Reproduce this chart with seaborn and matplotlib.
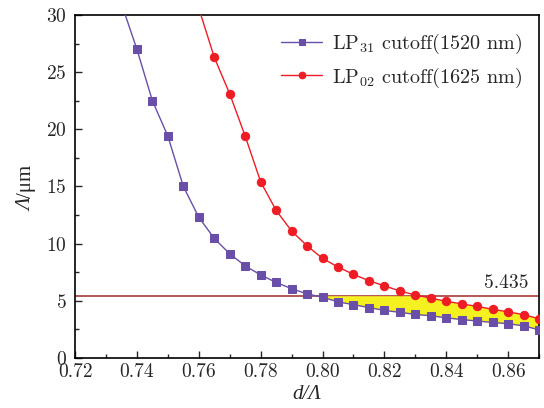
import numpy as np
import pandas as pd
import matplotlib
matplotlib.use("Agg")
import matplotlib.pyplot as plt
import seaborn as sns
from matplotlib.ticker import MultipleLocator

# data
x_lp31 = [0.735, 0.74, 0.745, 0.75, 0.755, 0.76, 0.765, 0.77, 0.775, 0.78, 0.785, 0.79, 0.795,
          0.80, 0.805, 0.81, 0.815, 0.82, 0.825, 0.83, 0.835, 0.84, 0.845, 0.85, 0.855, 0.86, 0.865, 0.87]
y_lp31 = [31.0, 27.0, 22.5, 19.4, 15.0, 12.3, 10.45, 9.1, 8.05, 7.25, 6.6, 6.05, 5.6,
          5.3, 4.9, 4.65, 4.4, 4.15, 3.98, 3.8, 3.68, 3.5, 3.35, 3.22, 3.1, 2.98, 2.8, 2.45]
x_lp02 = [0.76, 0.765, 0.77, 0.775, 0.78, 0.785, 0.79, 0.795, 0.80, 0.805, 0.81, 0.815, 0.82,
          0.825, 0.83, 0.835, 0.84, 0.845, 0.85, 0.855, 0.86, 0.865, 0.87]
y_lp02 = [30.6, 26.3, 23.1, 19.4, 15.4, 12.9, 11.1, 9.8, 8.7, 7.95, 7.3, 6.75, 6.3,
          5.85, 5.5, 5.22, 4.95, 4.72, 4.5, 4.25, 4.02, 3.78, 3.42]
level = 5.435
label_31 = "LP$_{31}$ cutoff(1520 nm)"
label_02 = "LP$_{02}$ cutoff(1625 nm)"

sns.set_style("ticks")
plt.rcParams["font.family"] = ["cmr10", "DejaVu Serif"]
plt.rcParams["mathtext.fontset"] = "cm"
plt.rcParams["axes.formatter.use_mathtext"] = True
plt.rcParams["axes.unicode_minus"] = False

purple = "#6a4fa8"
red = "#ee1c24"

fig = plt.figure(figsize=(5.44, 4.08), dpi=100)
ax = fig.add_axes([0.138, 0.123, 0.853, 0.840])

df31 = pd.DataFrame({"x": x_lp31, "y": y_lp31})
df02 = pd.DataFrame({"x": x_lp02, "y": y_lp02})

ax.axhline(level, color="#a83a3a", lw=1.2, zorder=1)

# yellow region between curves below the level
xs = np.array(x_lp02)
p = np.interp(xs, x_lp31, y_lp31)
r = np.array(y_lp02)
upper = np.minimum(r, level)
ax.fill_between(xs, p, upper, where=upper > p, interpolate=True, color="#f5f020", zorder=1.5, lw=0)

sns.lineplot(data=df31, x="x", y="y", ax=ax, color=purple, marker="s", markersize=5.3,
             markeredgecolor=purple, lw=1.0, label=label_31, zorder=3)
sns.lineplot(data=df02, x="x", y="y", ax=ax, color=red, marker="o", markersize=6.0,
             markeredgecolor=red, lw=1.0, label=label_02, zorder=3)

ax.text(0.8595, level + 0.35, "5.435", fontsize=14, ha="center", va="bottom")

ax.set_xlim(0.72, 0.87)
ax.set_ylim(0, 30)
ax.xaxis.set_major_locator(MultipleLocator(0.02))
ax.xaxis.set_minor_locator(MultipleLocator(0.01))
ax.yaxis.set_major_locator(MultipleLocator(5))
ax.yaxis.set_minor_locator(MultipleLocator(2.5))
ax.xaxis.set_major_formatter(matplotlib.ticker.FormatStrFormatter("%.2f"))
ax.tick_params(axis="both", which="both", direction="in", top=False, right=False, labelsize=14)
ax.tick_params(axis="x", pad=4)
ax.tick_params(axis="y", pad=6)
ax.tick_params(which="major", length=5, width=1.0)
ax.tick_params(which="minor", length=3, width=1.0)
for s in ax.spines.values():
    s.set_linewidth(1.2)
    s.set_color("black")

ax.set_xlabel("d/Λ", fontsize=15, labelpad=3, family="Liberation Serif", style="italic")
ax.set_ylabel("")
# y label: italic Lambda followed by upright unit
fig.text(27 / 544, 1 - 211 / 408, "Λ", rotation=90, ha="center", va="bottom",
         fontsize=15, family="Liberation Serif", style="italic")
fig.text(27 / 544, 1 - 198 / 408, "/μm", rotation=90, ha="center", va="bottom",
         fontsize=15, family="Liberation Serif")

leg = ax.legend(loc="upper right", frameon=False, fontsize=14.5, handlelength=2.0,
                borderaxespad=0.3, borderpad=0.55, labelspacing=0.45, handletextpad=0.5,
                markerscale=0.8)

fig.savefig("out.png", dpi=100)
